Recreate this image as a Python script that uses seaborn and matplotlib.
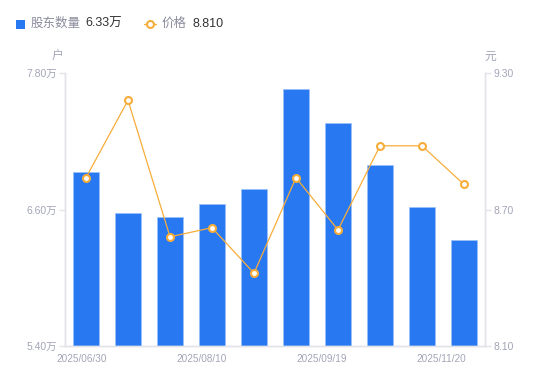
import matplotlib.pyplot as plt
import numpy as np
import pandas as pd
import seaborn as sns
from matplotlib.lines import Line2D
from matplotlib.patches import Rectangle

sns.set_style('white')
plt.rcParams['font.family'] = ['Liberation Sans', 'Noto Sans CJK SC', 'DejaVu Sans']

# 股东数量（万户）与价格（元）
periods = ['P1', 'P2', 'P3', 'P4', 'P5', 'P6', 'P7', 'P8', 'P9', 'P10']
holders = [6.93, 6.57, 6.53, 6.65, 6.78, 7.66, 7.36, 6.99, 6.62, 6.33]
prices = [8.84, 9.18, 8.58, 8.62, 8.42, 8.84, 8.61, 8.98, 8.98, 8.81]
date_labels = ['2025/06/30', '2025/08/10', '2025/09/19', '2025/11/20']
left_ticks = [5.40, 6.60, 7.80]
right_ticks = [8.10, 8.70, 9.30]

blue = '#2878f2'
orange = '#f7ad3a'
grey = '#a3a5b8'
axis_col = '#e3e4ea'

df = pd.DataFrame({'period': periods, 'holders': holders, 'price': prices})
df['idx'] = np.arange(len(df))

fig = plt.figure(figsize=(5.5, 3.81), dpi=100)
ax = fig.add_axes([65 / 550, 35 / 381, 420 / 550, 273 / 381])

sns.barplot(data=df, x='period', y='holders', ax=ax, color=blue, width=0.6,
            saturation=1, edgecolor='#9cc2f8', linewidth=0.5)
ax.set_ylim(5.40, 7.80)
ax.set_xlim(-0.5, len(df) - 0.5)
ax.set_yticks(left_ticks)
ax.set_yticklabels([f'{v:.2f}万' for v in left_ticks])
ax.set_xticks(np.linspace(-0.1, 8.47, len(date_labels)))
ax.set_xticklabels(date_labels)
ax.set_xlabel('')
ax.set_ylabel('')

ax2 = ax.twinx()
sns.lineplot(data=df, x='idx', y='price', ax=ax2, color=orange, lw=0.9,
             marker='o', markersize=5, markerfacecolor='white',
             markeredgecolor=orange, markeredgewidth=1.5)
ax2.set_ylim(8.10, 9.30)
ax2.set_yticks(right_ticks)
ax2.set_yticklabels([f'{v:.2f}' for v in right_ticks])
ax2.set_ylabel('')
ax2.set_xlabel('')

for a in (ax, ax2):
    for s in a.spines.values():
        s.set_color(axis_col)
        s.set_linewidth(1)
    a.spines['top'].set_visible(False)
    a.tick_params(axis='y', colors=axis_col, labelcolor=grey, labelsize=7.5,
                  length=4, width=1, pad=2)
    a.tick_params(axis='x', length=0, labelcolor=grey, labelsize=7.2, pad=6)
    a.grid(False)

fig.text(58 / 550, 1 - 57 / 381, '户', color=grey, fontsize=8.5, ha='center', va='center')
fig.text(490 / 550, 1 - 57 / 381, '元', color=grey, fontsize=8.5, ha='center', va='center')

# legend
ly = 1 - 24 / 381
fig.add_artist(Rectangle((16 / 550, ly - 4.5 / 381), 9 / 550, 9 / 381,
                         transform=fig.transFigure, color=blue, lw=0))
fig.text(31 / 550, ly, '股东数量', color='#8a8c9c', fontsize=9, va='center')
fig.text(85 / 550, ly, f'{holders[-1]:.2f}万', color='#333333', fontsize=9, va='center')
fig.add_artist(Line2D([144 / 550, 156 / 550], [ly, ly], transform=fig.transFigure,
                      color=orange, lw=1))
fig.add_artist(Line2D([150 / 550], [ly], transform=fig.transFigure, color=orange,
                      marker='o', markersize=5, markerfacecolor='white',
                      markeredgecolor=orange, markeredgewidth=1.5))
fig.text(162 / 550, ly, '价格', color='#8a8c9c', fontsize=9, va='center')
fig.text(192 / 550, ly, f'{prices[-1]:.3f}', color='#333333', fontsize=9, va='center')

fig.savefig('out.png', dpi=100)
